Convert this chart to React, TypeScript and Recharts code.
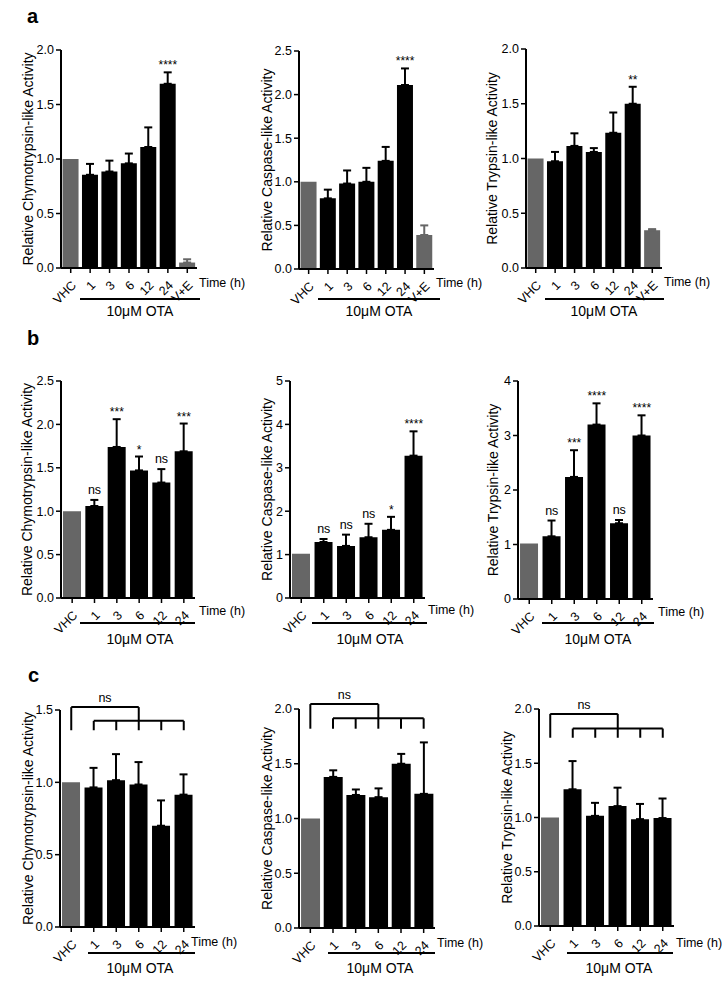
import React from 'react';
import { ComposedChart, Bar, Cell, ErrorBar, Line, LabelList, XAxis, YAxis, ReferenceLine } from 'recharts';

// ---------- categories ----------
const catsA = ['VHC', '1', '3', '6', '12', '24', 'V+E'];
const catsBC = ['VHC', '1', '3', '6', '12', '24'];

// ---------- panel a ----------
const aChymoValues = [1.0, 0.855, 0.885, 0.96, 1.11, 1.69, 0.05];
const aChymoErr = [0, 0.1, 0.1, 0.09, 0.18, 0.105, 0.03];
const aChymoSig = ['', '', '', '', '', '****', ''];

const aCaspValues = [1.0, 0.81, 0.98, 1.0, 1.24, 2.11, 0.39];
const aCaspErr = [0, 0.1, 0.15, 0.16, 0.16, 0.19, 0.11];
const aCaspSig = ['', '', '', '', '', '****', ''];

const aTrypValues = [1.0, 0.975, 1.115, 1.06, 1.235, 1.5, 0.345];
const aTrypErr = [0, 0.085, 0.115, 0.035, 0.185, 0.155, 0.01];
const aTrypSig = ['', '', '', '', '', '**', ''];

// ---------- panel b ----------
const bChymoValues = [1.0, 1.06, 1.74, 1.47, 1.33, 1.69];
const bChymoErr = [0, 0.07, 0.32, 0.16, 0.155, 0.32];
const bChymoSig = ['', 'ns', '***', '*', 'ns', '***'];

const bCaspValues = [1.02, 1.29, 1.2, 1.4, 1.57, 3.28];
const bCaspErr = [0, 0.07, 0.26, 0.31, 0.3, 0.56];
const bCaspSig = ['', 'ns', 'ns', 'ns', '*', '****'];

const bTrypValues = [1.02, 1.15, 2.24, 3.2, 1.39, 3.0];
const bTrypErr = [0, 0.29, 0.49, 0.39, 0.06, 0.37];
const bTrypSig = ['', 'ns', '***', '****', 'ns', '****'];

// ---------- panel c ----------
const cChymoValues = [1.0, 0.965, 1.015, 0.985, 0.7, 0.915];
const cChymoErr = [0, 0.135, 0.18, 0.155, 0.175, 0.14];
const cChymoSig = ['', '', '', '', '', ''];

const cCaspValues = [1.0, 1.38, 1.215, 1.195, 1.5, 1.225];
const cCaspErr = [0, 0.06, 0.05, 0.08, 0.09, 0.47];
const cCaspSig = ['', '', '', '', '', ''];

const cTrypValues = [1.0, 1.26, 1.015, 1.105, 0.985, 0.995];
const cTrypErr = [0, 0.26, 0.12, 0.17, 0.14, 0.18];
const cTrypSig = ['', '', '', '', '', ''];

// comparison brackets (ns) in panel c: [top bar, lower bar, feet]
const cChymoBracket = [1.52, 1.425, 1.36];
const cCaspBracket = [2.045, 1.915, 1.82];
const cTrypBracket = [1.955, 1.82, 1.735];

// ---------- axis ticks ----------
const ticks20 = [0, 0.5, 1, 1.5, 2];
const ticks25 = [0, 0.5, 1, 1.5, 2, 2.5];
const ticks15 = [0, 0.5, 1, 1.5];
const ticks5 = [0, 1, 2, 3, 4, 5];
const ticks4 = [0, 1, 2, 3, 4];

const labelChymo = 'Relative Chymotrypsin-like Activity';
const labelCasp = 'Relative Caspase-like Activity';
const labelTryp = 'Relative Trypsin-like Activity';

const FONT = '"Liberation Sans", Arial, Helvetica, sans-serif';
const GREY = '#666666';

type Row = {
  cat: string;
  value: number;
  errOta: number[] | null;
  errCtrl: number[] | null;
  top: number;
  sigStar: string;
  sigNs: string;
  ctrl: boolean;
};

function buildRows(cats: string[], values: number[], errs: number[], sigs: string[]): Row[] {
  return cats.map((c, i) => {
    const ctrl = c === 'VHC' || c === 'V+E';
    const e = errs[i];
    const s = sigs[i];
    return {
      cat: c,
      value: values[i],
      errOta: !ctrl && e > 0 ? [0, e] : null,
      errCtrl: ctrl && e > 0 ? [0, e] : null,
      top: values[i] + e,
      sigStar: s.startsWith('*') ? s : '',
      sigNs: s === 'ns' ? s : '',
      ctrl,
    };
  });
}

const AngledTick = (props: any) => {
  const { x, y, payload } = props;
  return (
    <g transform={`translate(${x + 3},${y + 8})`}>
      <text x={0} y={0} dy="0.35em" textAnchor="end" transform="rotate(-45)" fontSize={12.5} fill="#000" fontFamily={FONT}>
        {payload.value}
      </text>
    </g>
  );
};

function bracketLines(b: number[], cats: string[]) {
  const [top, low, foot] = b;
  const mid = cats[3];
  const segs: { p: [string, number][]; label?: string }[] = [];
  segs.push({ p: [[cats[0], top], [mid, top]], label: 'ns' });
  segs.push({ p: [[cats[0], top], [cats[0], foot]] });
  segs.push({ p: [[mid, top], [mid, foot]] });
  segs.push({ p: [[cats[1], low], [cats[cats.length - 1], low]] });
  cats.slice(1).forEach((c) => {
    if (c !== mid) segs.push({ p: [[c, low], [c, foot]] });
  });
  return segs.map((s, i) => (
    <ReferenceLine
      key={`br${i}`}
      segment={[{ x: s.p[0][0], y: s.p[0][1] }, { x: s.p[1][0], y: s.p[1][1] }]}
      stroke="#000"
      strokeWidth={2}
      ifOverflow="visible"
      label={s.label ? { value: s.label, position: 'top', offset: 5, fill: '#000', fontSize: 12.5, fontFamily: FONT } : undefined}
    />
  ));
}

type Cfg = { axisX: number; right: number; top: number; bottom: number; yW: number; gap: string };

function Panel(props: {
  cfg: Cfg;
  rows: Row[];
  cats: string[];
  domain: number[];
  ticks: number[];
  decimals: number;
  yLabel: string;
  bracket?: number[];
}) {
  const { cfg, rows, cats, domain, ticks, decimals, yLabel, bracket } = props;
  const marginTop = 40;
  const xH = 45;
  const plotW = cfg.right - cfg.axisX;
  const plotH = cfg.bottom - cfg.top;
  const width = cfg.yW + plotW + 4;
  const height = marginTop + plotH + xH;
  return (
    <div style={{ position: 'absolute', left: cfg.axisX - cfg.yW, top: cfg.top - marginTop }}>
      <ComposedChart
        width={width}
        height={height}
        data={rows}
        margin={{ top: marginTop, right: 4, bottom: 0, left: 0 }}
        barCategoryGap={cfg.gap}
      >
        <XAxis
          dataKey="cat"
          type="category"
          interval={0}
          height={xH}
          tick={<AngledTick />}
          tickSize={5}
          axisLine={{ stroke: '#000', strokeWidth: 2 }}
          tickLine={{ stroke: '#000', strokeWidth: 1.5 }}
        />
        <YAxis
          type="number"
          width={cfg.yW}
          domain={domain}
          ticks={ticks}
          allowDataOverflow
          interval={0}
          tickFormatter={(v: number) => v.toFixed(decimals)}
          tick={{ fill: '#000', fontSize: 12.5, fontFamily: FONT }}
          tickSize={5}
          axisLine={{ stroke: '#000', strokeWidth: 2 }}
          tickLine={{ stroke: '#000', strokeWidth: 1.5 }}
          label={{ value: yLabel, angle: -90, position: 'center', fill: '#000', fontSize: 14, fontFamily: FONT }}
        />
        <Bar dataKey="value" isAnimationActive={false}>
          {rows.map((r, i) => (
            <Cell key={i} fill={r.ctrl ? GREY : '#000'} />
          ))}
          <ErrorBar dataKey="errOta" width={4} strokeWidth={2} stroke="#000" direction="y" />
          <ErrorBar dataKey="errCtrl" width={4} strokeWidth={2} stroke={GREY} direction="y" />
        </Bar>
        <Line dataKey="top" stroke="none" dot={false} activeDot={false} isAnimationActive={false} legendType="none">
          <LabelList dataKey="sigStar" position="top" offset={3} fill="#000" fontSize={12} fontFamily={FONT} />
          <LabelList dataKey="sigNs" position="top" offset={6} fill="#000" fontSize={12.5} fontFamily={FONT} />
        </Line>
        {bracket ? bracketLines(bracket, cats) : null}
      </ComposedChart>
    </div>
  );
}

function Txt(props: { x: number; y: number; text: string; center?: boolean; size?: number; bold?: boolean }) {
  const { x, y, text, center, size, bold } = props;
  return (
    <div
      style={{
        position: 'absolute',
        left: x,
        top: y,
        transform: center ? 'translate(-50%, -50%)' : 'translateY(-50%)',
        fontFamily: FONT,
        fontSize: size || 12.5,
        fontWeight: bold ? 700 : 400,
        lineHeight: 1,
        whiteSpace: 'nowrap',
        color: '#000',
      }}
    >
      {text}
    </div>
  );
}

function ULine(props: { x1: number; x2: number; y: number }) {
  return (
    <div style={{ position: 'absolute', left: props.x1, top: props.y - 1, width: props.x2 - props.x1, height: 2, background: '#000' }} />
  );
}

const aRows1 = buildRows(catsA, aChymoValues, aChymoErr, aChymoSig);
const aRows2 = buildRows(catsA, aCaspValues, aCaspErr, aCaspSig);
const aRows3 = buildRows(catsA, aTrypValues, aTrypErr, aTrypSig);
const bRows1 = buildRows(catsBC, bChymoValues, bChymoErr, bChymoSig);
const bRows2 = buildRows(catsBC, bCaspValues, bCaspErr, bCaspSig);
const bRows3 = buildRows(catsBC, bTrypValues, bTrypErr, bTrypSig);
const cRows1 = buildRows(catsBC, cChymoValues, cChymoErr, cChymoSig);
const cRows2 = buildRows(catsBC, cCaspValues, cCaspErr, cCaspSig);
const cRows3 = buildRows(catsBC, cTrypValues, cTrypErr, cTrypSig);

export default function App() {
  return (
    <div style={{ position: 'absolute', left: 0, top: 0, width: 724, height: 984, background: '#fff', overflow: 'hidden' }}>
      {/* panel letters */}
      <Txt x={27} y={16} text="a" size={20} bold />
      <Txt x={27} y={338} text="b" size={20} bold />
      <Txt x={28} y={675} text="c" size={20} bold />

      {/* row a */}
      <Panel cfg={{ axisX: 61, right: 197, top: 50, bottom: 268, yW: 65, gap: '8%' }} rows={aRows1} cats={catsA} domain={[0, 2]} ticks={ticks20} decimals={1} yLabel={labelChymo} />
      <Panel cfg={{ axisX: 299, right: 434, top: 51, bottom: 269, yW: 64, gap: '8%' }} rows={aRows2} cats={catsA} domain={[0, 2.5]} ticks={ticks25} decimals={1} yLabel={labelCasp} />
      <Panel cfg={{ axisX: 526, right: 662, top: 49, bottom: 268, yW: 68, gap: '8%' }} rows={aRows3} cats={catsA} domain={[0, 2]} ticks={ticks20} decimals={1} yLabel={labelTryp} />

      <Txt x={199} y={283} text="Time (h)" />
      <Txt x={436} y={283} text="Time (h)" />
      <Txt x={664} y={282} text="Time (h)" />
      <ULine x1={80} x2={200} y={299} />
      <ULine x1={318} x2={440} y={299} />
      <ULine x1={545} x2={664} y={299} />
      <Txt x={140} y={311} text="10μM OTA" center size={14} />
      <Txt x={379} y={311} text="10μM OTA" center size={14} />
      <Txt x={604} y={311} text="10μM OTA" center size={14} />

      {/* row b */}
      <Panel cfg={{ axisX: 61, right: 195, top: 381, bottom: 598, yW: 68, gap: '9%' }} rows={bRows1} cats={catsBC} domain={[0, 2.5]} ticks={ticks25} decimals={1} yLabel={labelChymo} />
      <Panel cfg={{ axisX: 290, right: 425, top: 381, bottom: 598, yW: 46, gap: '9%' }} rows={bRows2} cats={catsBC} domain={[0, 5]} ticks={ticks5} decimals={0} yLabel={labelCasp} />
      <Panel cfg={{ axisX: 518, right: 653, top: 381, bottom: 599, yW: 50, gap: '9%' }} rows={bRows3} cats={catsBC} domain={[0, 4]} ticks={ticks4} decimals={0} yLabel={labelTryp} />

      <Txt x={199} y={611} text="Time (h)" />
      <Txt x={428} y={610} text="Time (h)" />
      <Txt x={658} y={612} text="Time (h)" />
      <ULine x1={80} x2={195} y={623} />
      <ULine x1={312} x2={427} y={623} />
      <ULine x1={542} x2={654} y={623} />
      <Txt x={140} y={639} text="10μM OTA" center size={14} />
      <Txt x={370} y={639} text="10μM OTA" center size={14} />
      <Txt x={598} y={639} text="10μM OTA" center size={14} />

      {/* row c */}
      <Panel cfg={{ axisX: 60, right: 195, top: 710, bottom: 927, yW: 64, gap: '9%' }} rows={cRows1} cats={catsBC} domain={[0, 1.5]} ticks={ticks15} decimals={1} yLabel={labelChymo} bracket={cChymoBracket} />
      <Panel cfg={{ axisX: 299, right: 435, top: 709, bottom: 928, yW: 64, gap: '9%' }} rows={cRows2} cats={catsBC} domain={[0, 2]} ticks={ticks20} decimals={1} yLabel={labelCasp} bracket={cCaspBracket} />
      <Panel cfg={{ axisX: 539, right: 674, top: 709, bottom: 926, yW: 64, gap: '9%' }} rows={cRows3} cats={catsBC} domain={[0, 2]} ticks={ticks20} decimals={1} yLabel={labelTryp} bracket={cTrypBracket} />

      <Txt x={191} y={942} text="Time (h)" />
      <Txt x={437} y={943} text="Time (h)" />
      <Txt x={676} y={943} text="Time (h)" />
      <ULine x1={88} x2={195} y={953} />
      <ULine x1={328} x2={435} y={953} />
      <ULine x1={567} x2={673} y={953} />
      <Txt x={140} y={968} text="10μM OTA" center size={14} />
      <Txt x={380} y={968} text="10μM OTA" center size={14} />
      <Txt x={619} y={968} text="10μM OTA" center size={14} />
    </div>
  );
}
